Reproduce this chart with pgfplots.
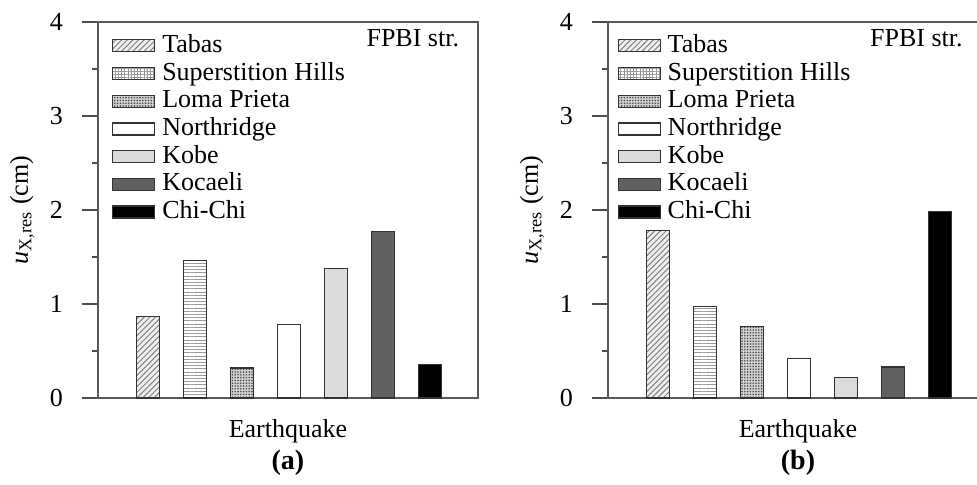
\documentclass[border=0pt]{standalone}
\usepackage{fontspec}
\setmainfont{Liberation Serif}
\usepackage{pgfplots}
\pgfplotsset{compat=1.18}
\usetikzlibrary{patterns.meta}

\definecolor{kobe}{gray}{0.86}
\definecolor{kocaeli}{gray}{0.38}

\pgfplotsset{
  quakeaxis/.style={
    scale only axis, width=190pt, height=188pt,
    xmin=-0.07, xmax=8.03, ymin=0, ymax=4,
    xtick=\empty, ytick={0,1,2,3,4}, minor y tick num=1,
    ytick pos=left, tick align=outside,
    major tick length=8pt, minor tick length=3pt,
    tick style={black!70, line width=0.6pt},
    axis line style={black!65, line width=0.6pt},
    yticklabel style={xshift=-5pt},
    /pgf/number format/assume math mode=true,
    xlabel={Earthquake},
    xlabel style={at={(axis description cs:0.5,-0.106)}, anchor=base},
    ylabel={\textit{u}\textsubscript{X,res} (cm)},
    ylabel style={at={(axis description cs:-0.2,0.5)}, anchor=center},
    clip=false,
    legend cell align=left,
    legend style={draw=none, fill=none, inner sep=0pt, column sep=3pt, row sep=1.35pt,
      nodes={inner sep=0.5pt, text height=9pt, text depth=2.5pt},
      anchor=north west},
  },
  quakebar/.style={ybar, bar width=11.5pt, draw=black!80, line width=0.6pt,
    legend image code/.code={\draw[##1] (0pt,-3pt) rectangle (21pt,3pt);}},
  tabas/.style={quakebar, fill=gray!12,
    postaction={pattern={Lines[angle=45, distance=2pt, line width=0.5pt]}, pattern color=gray}},
  superst/.style={quakebar, fill=white,
    postaction={pattern={Lines[angle=0, distance=1.6pt, line width=0.5pt]}, pattern color=gray!80},
    legend image code/.code={\draw[black!80, line width=0.6pt, fill=white,
      postaction={pattern={Lines[angle=90, distance=1.6pt, line width=0.5pt]}, pattern color=gray!80}]
      (0pt,-3pt) rectangle (21pt,3pt);}},
  loma/.style={quakebar, fill=gray!35,
    postaction={pattern={Dots[distance=1.4pt, radius=0.45pt]}, pattern color=black!70}},
  northr/.style={quakebar, fill=white},
  kobebar/.style={quakebar, fill=kobe},
  kocbar/.style={quakebar, fill=kocaeli},
  chichi/.style={quakebar, fill=black},
}

\begin{document}
\fontsize{13}{15.6}\selectfont
\begin{tikzpicture}
\begin{axis}[quakeaxis, at={(0pt,0pt)}, anchor=south west,
  legend style={at={(rel axis cs:0.036,0.971)}}]
\addplot[tabas] coordinates {(1,0.87)};
\addlegendentry{Tabas}
\addplot[superst] coordinates {(2,1.46)};
\addlegendentry{Superstition Hills}
\addplot[loma] coordinates {(3,0.32)};
\addlegendentry{Loma Prieta}
\addplot[northr] coordinates {(4,0.78)};
\addlegendentry{Northridge}
\addplot[kobebar] coordinates {(5,1.38)};
\addlegendentry{Kobe}
\addplot[kocbar] coordinates {(6,1.77)};
\addlegendentry{Kocaeli}
\addplot[chichi] coordinates {(7,0.36)};
\addlegendentry{Chi-Chi}
\node[anchor=base east] at (rel axis cs:0.974,0.934) {FPBI str.};
\node[anchor=base, font=\fontsize{14}{16}\selectfont\bfseries] at (rel axis cs:0.5,-0.191) {(a)};
\end{axis}

\begin{axis}[quakeaxis, at={(255pt,0pt)}, anchor=south west,
  legend style={at={(rel axis cs:0.024,0.971)}}]
\addplot[tabas] coordinates {(1,1.78)};
\addlegendentry{Tabas}
\addplot[superst] coordinates {(2,0.97)};
\addlegendentry{Superstition Hills}
\addplot[loma] coordinates {(3,0.76)};
\addlegendentry{Loma Prieta}
\addplot[northr] coordinates {(4,0.42)};
\addlegendentry{Northridge}
\addplot[kobebar] coordinates {(5,0.22)};
\addlegendentry{Kobe}
\addplot[kocbar] coordinates {(6,0.33)};
\addlegendentry{Kocaeli}
\addplot[chichi] coordinates {(7,1.98)};
\addlegendentry{Chi-Chi}
\node[anchor=base east] at (rel axis cs:0.957,0.934) {FPBI str.};
\node[anchor=base, font=\fontsize{14}{16}\selectfont\bfseries] at (rel axis cs:0.5,-0.191) {(b)};
\end{axis}
\pgfresetboundingbox
\path[use as bounding box] (-49pt,-43pt) rectangle (439.5pt,199pt);
\end{tikzpicture}
\end{document}
